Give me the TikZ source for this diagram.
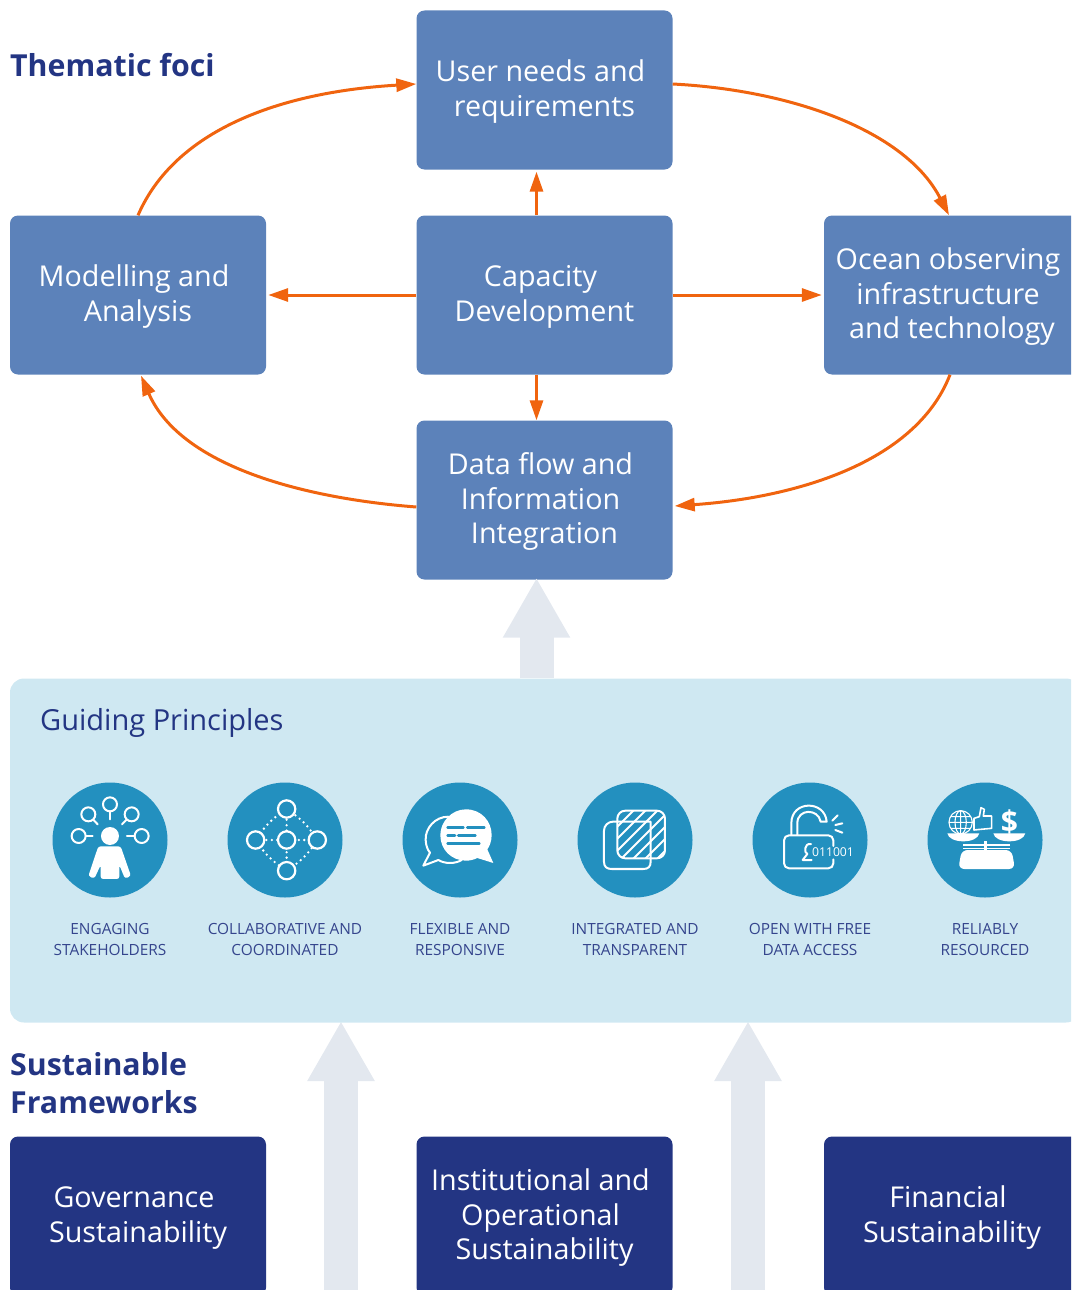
\documentclass[tikz,border=0pt]{standalone}
\usepackage{fontspec}
\setmainfont{Open Sans}
\usetikzlibrary{arrows.meta}
\definecolor{boxblue}{HTML}{5C82BA}
\definecolor{navy}{HTML}{233583}
\definecolor{orangeline}{HTML}{F0640F}
\definecolor{panelblue}{HTML}{CFE8F2}
\definecolor{iconblue}{HTML}{2390BF}
\definecolor{paleblue}{HTML}{E3E8EF}
\newcommand{\shl}[1]{#1\rule{8pt}{0pt}}
\newcommand{\tallstrut}{\rule{0pt}{25pt}}
\tikzset{
bluebox/.style={
  rectangle,rounded corners=8pt,
  minimum width=256pt,minimum height=159pt,
  inner sep=0pt,align=center,
  text=white,fill=boxblue,
  font=\fontsize{28.7}{34.6}\selectfont
},
navybox/.style={bluebox,fill=navy},
heading/.style={
  anchor=west,inner sep=0pt,align=left,text=navy,
  font=\fontsize{30.3}{37.5}\selectfont\bfseries
},
flow/.style={orangeline,line width=3pt,-{Triangle[length=20pt,width=13pt]}},
bigarrow/.style={paleblue,line width=34pt,-{Triangle[length=60pt,width=63pt]}},
badge/.style={circle,fill=iconblue,minimum size=115pt,inner sep=0pt},
caption/.style={
  text=navy!92,align=center,inner sep=0pt,
  font=\fontsize{15.4}{21}\selectfont
},
whiteline/.style={white,line width=2pt,line cap=round,line join=round},
whitefill/.style={fill=white,draw=none},
dots/.style={white,line width=2.6pt,line cap=round,dash pattern=on 0pt off 5.4pt},
}
\begin{document}
\begin{tikzpicture}[x=1pt,y=-1pt]
\useasboundingbox (0,0) rectangle (1071,1290);
\clip (0,0) rectangle (1071,1290);
% the boxes
\node[bluebox] (user) at (544.5,90) {\tallstrut\shl{User needs and}\\requirements};
\node[bluebox] (model) at (138,295) {\tallstrut\shl{Modelling and}\\Analysis};
\node[bluebox] (capacity) at (544.5,295) {\tallstrut\shl{Capacity}\\Development};
\node[bluebox] (ocean) at (952,295) {\tallstrut\shl{Ocean observing}\\\shl{infrastructure}\\and technology};
\node[bluebox] (data) at (544.5,500) {\tallstrut\shl{Data flow and}\\\shl{Information}\\Integration};
\node[navybox] (gov) at (138,1216) {\tallstrut\shl{Governance}\\Sustainability};
\node[navybox] (inst) at (544.5,1216) {\tallstrut\shl{Institutional and}\\\shl{Operational}\\Sustainability};
\node[navybox] (fin) at (952,1216) {\tallstrut\shl{Financial}\\Sustainability};
% the wide arrows
\coordinate (foot1) at (341,1290);
\coordinate (foot2) at (748,1290);
\coordinate (tip1) at (341,1021);
\coordinate (tip2) at (748,1021);
\draw[bigarrow] (foot1) -- (tip1);
\draw[bigarrow] (foot2) -- (tip2);
% the panel
\node[rectangle,rounded corners=14pt,fill=panelblue,minimum width=1070pt,minimum height=344pt,inner sep=0pt] (panel) at (545,850.5) {};
\draw[bigarrow] ([xshift=-8pt]data.south |- panel.north) -- ([xshift=-8pt,yshift=2pt]data.south);
% the headings
\node[heading] (foci) at (10,65) {Thematic foci};
\node[heading,font=\fontsize{29}{35}\selectfont] (guiding) at (40,722.5) {Guiding Principles};
\node[heading] (frames) at (10,1083) {Sustainable\\Frameworks};
% the arrows
\draw[flow] ([xshift=-8pt]capacity.north) -- ([xshift=-8pt,yshift=-2pt]user.south);
\draw[flow] ([xshift=-8pt]capacity.south) -- ([xshift=-8pt]data.north);
\draw[flow] (capacity.west) -- ([xshift=2pt]model.east);
\draw[flow] (capacity.east) -- ([xshift=-2pt]ocean.west);
\draw[flow] (model.north) .. controls (175,130) and (280,92) .. ([yshift=6pt]user.west);
\draw[flow] ([yshift=6pt]user.east) .. controls (790,90) and (905,130) .. ([xshift=-3pt]ocean.north);
\draw[flow] ([xshift=-2pt]ocean.south) .. controls (915,465) and (790,498) .. ([xshift=2pt,yshift=-6pt]data.east);
\draw[flow] ([yshift=-7pt]data.west) .. controls (300,498) and (180,465) .. ([xshift=3pt,yshift=-1pt]model.south);
% the principles
\foreach \x/\lineA/\lineB [count=\i] in {110/ENGAGING/STAKEHOLDERS,285/COLLABORATIVE AND/COORDINATED,460/FLEXIBLE AND/RESPONSIVE,635/INTEGRATED AND/TRANSPARENT,810/OPEN WITH FREE/DATA ACCESS,985/RELIABLY/RESOURCED}
{
  \node[badge] (badge\i) at (\x,840) {};
  \node[caption] (caption\i) at (\x,939.5) {\lineA\\\lineB};
}
% stakeholder icon
\begin{scope}[shift={(30,770)},x=.3333pt,y=-.3333pt]
\fill[white] (240,198) circle (27);
\path[whitefill,rounded corners=2.5pt] (205,229) -- (272,229) -- (303,318) -- (285,326) -- (268,285) -- (268,327) -- (212,327) -- (212,285) -- (193,326) -- (175,318) -- cycle;
\foreach \a/\b/\c/\d in {146/198/188/198,175/133/203/163,240/103/240/148,305/133/276/163,335/198/291/198}
{
  \draw[whiteline] (\c,\d) -- (\a,\b);
  \draw[whiteline,fill=iconblue] (\a,\b) circle (21);
}
% network icon
\draw[dots] (770,117) to[bend left=12] (862,210) to[bend left=12] (770,302) to[bend left=12] (677,210) to[bend left=12] (770,117);
\draw[dots] (770,117) -- (770,302) (677,210) -- (862,210);
\foreach \a/\b in {770/117,677/210,770/210,862/210,770/302}
  \draw[white,line width=2.2pt,fill=iconblue] (\a,\b) circle (26);
\end{scope}
\begin{scope}[shift={(380,770)},x=.3333pt,y=-.3333pt]
% speech icon
\draw[whiteline] (205,140) .. controls (165,140) and (135,175) .. (137,210) .. controls (138,228) and (143,240) .. (150,248) -- (130,287) -- (175,270) .. controls (195,282) and (225,282) .. (245,270);
\path[whitefill] (258,118) .. controls (305,118) and (335,155) .. (335,195) .. controls (335,215) and (328,230) .. (322,238) -- (340,279) -- (292,264) .. controls (280,270) and (268,272) .. (258,272) .. controls (215,272) and (181,240) .. (181,195) .. controls (181,155) and (215,118) .. (258,118) -- cycle;
\draw[iconblue,line width=2.8pt,line cap=round] (203,172) -- (250,172) (262,172) -- (313,172) (203,196) -- (225,196) (235,196) -- (286,196) (203,220) -- (298,220);
% layers icon
\draw[whiteline] (700,155) -- (812,155) (672,182) arc (180:270:27) (672,182) -- (672,275) .. controls (672,290) and (680,297) .. (695,297) -- (790,297) .. controls (805,297) and (812,290) .. (812,275) -- (812,155);
\begin{scope}
\clip[rounded corners=8pt] (712,122) rectangle (855,265);
\foreach \k in {-4,...,3}
  \draw[white,line width=2pt] (700+\k*36,290) -- (700+\k*36+170,120);
\end{scope}
\draw[whiteline,rounded corners=8pt] (712,122) rectangle (855,265);
\end{scope}
\begin{scope}[shift={(730,770)},x=.3333pt,y=-.3333pt]
% lock icon
\draw[whiteline,rounded corners=5pt] (310,268) -- (310,295) -- (162,295) -- (162,196) -- (310,196) -- (310,228);
\draw[whiteline] (184,195) -- (184,160) .. controls (184,90) and (285,90) .. (290,155) -- (272,155) .. controls (265,115) and (202,115) .. (202,160) -- (202,195);
\draw[whiteline] (307,152) -- (323,136) (316,165) -- (337,160) (316,180) -- (337,188);
\draw[whiteline] (243,222) .. controls (222,218) and (222,250) .. (232,252) -- (218,270) -- (245,270);
\node[text=white,inner sep=0pt,font=\fontsize{12.2}{13}\selectfont] (bits) at (309,247) {011001};
% scale icon
\path[whitefill,rounded corners=6pt] (695,240) -- (845,240) -- (855,297) -- (685,297) -- cycle;
\path[whitefill] (652,190) -- (748,190) .. controls (745,205) and (725,214) .. (700,214) .. controls (675,214) and (655,205) .. (652,190) -- cycle;
\path[whitefill] (790,190) -- (886,190) .. controls (883,205) and (863,214) .. (838,214) .. controls (813,214) and (793,205) .. (790,190) -- cycle;
\draw[white,line width=1.2pt] (700,225) -- (840,225) (700,235) -- (840,235);
\path[whitefill] (762,212) rectangle (772,240);
\draw[white,line width=1.1pt] (692,157) circle (35) (692,122) -- (692,192) (657,157) -- (727,157) (662,140) -- (722,140) (662,175) -- (722,175);
\draw[white,line width=1.1pt] (692,157) ellipse (17 and 35);
\draw[whiteline,line width=1.6pt] (732,145) -- (748,140) -- (753,113) -- (763,118) -- (760,138) -- (785,138) -- (785,175) -- (752,178) -- (732,180) -- cycle;
\node[text=white,inner sep=0pt,font=\fontsize{30}{30}\selectfont\bfseries] (dollar) at (838,156) {\$};
\end{scope}
\end{tikzpicture}
\end{document}
